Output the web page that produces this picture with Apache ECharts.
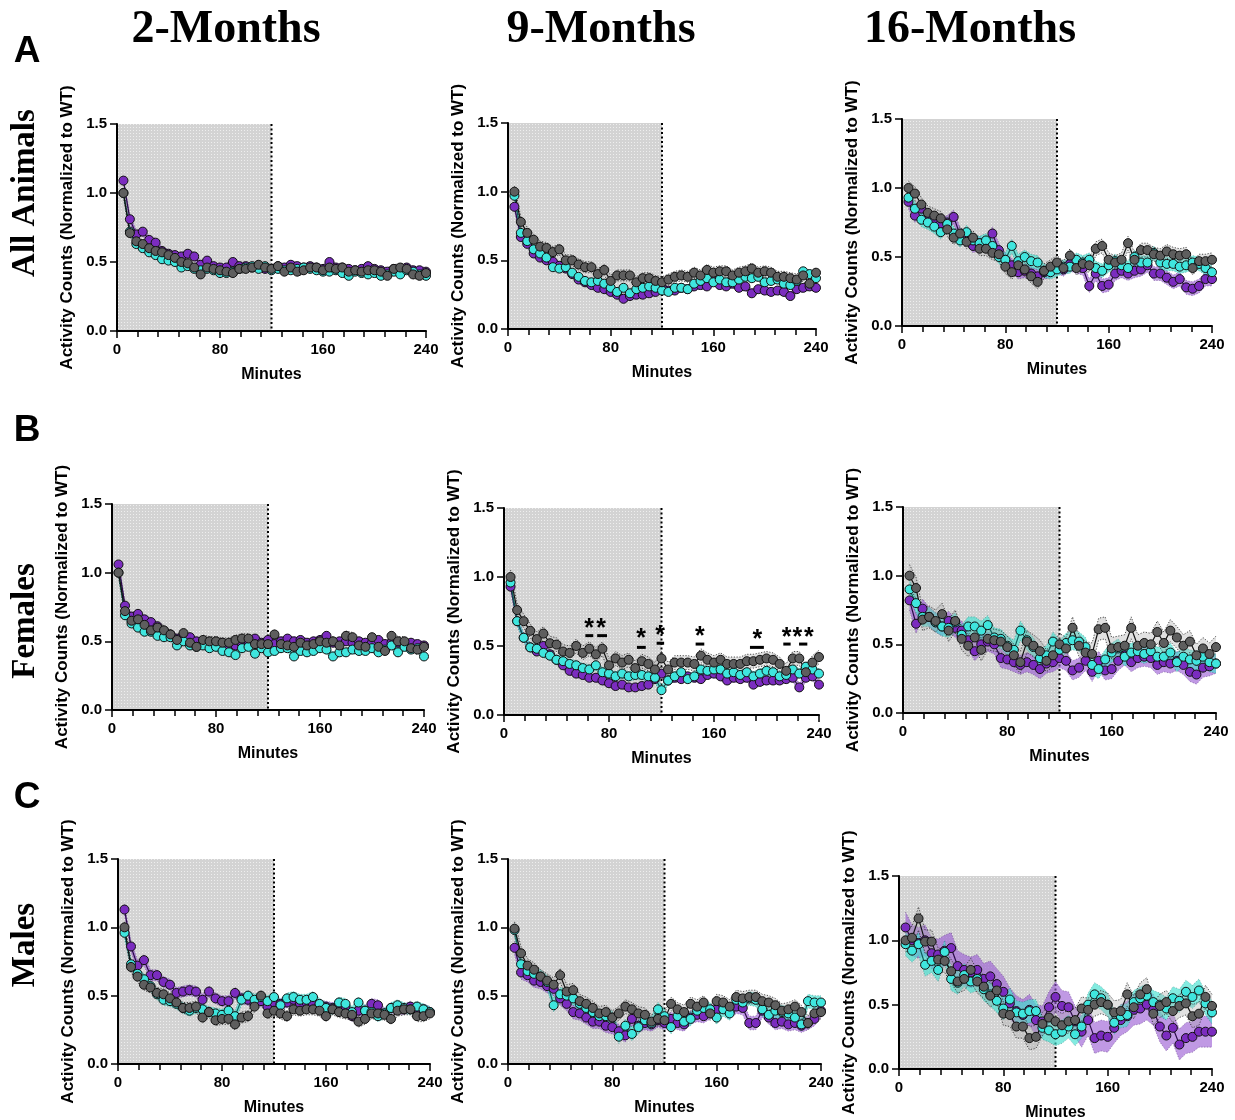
<!DOCTYPE html>
<html><head><meta charset="utf-8">
<script src="https://cdn.jsdelivr.net/npm/echarts@6/dist/echarts.min.js"></script>
<style>html,body{margin:0;padding:0;background:#fff}#c{width:1235px;height:1120px}</style>
</head><body><div id="c"></div>
<script>
// ---------------- DATA ----------------
const MINUTES=[5,10,15,20,25,30,35,40,45,50,55,60,65,70,75,80,85,90,95,100,105,110,115,120,
125,130,135,140,145,150,155,160,165,170,175,180,185,190,195,200,205,210,215,220,225,230,235,240];
const COLUMN_TITLES=['2-Months','9-Months','16-Months'];
const ROW_TITLES=['All Animals','Females','Males'];
const PANEL_LETTERS=['A','B','C'];
const X_AXIS_NAME='Minutes';
const Y_AXIS_NAME='Activity Counts (Normalized to WT)';
const DARK_PHASE=[0,120];

// All animals, 2 months
const A1_PURPLE=[1.09,0.81,0.70,0.72,0.66,0.64,0.58,0.56,0.55,0.54,0.56,0.54,0.48,0.51,0.47,0.46,0.46,0.50,0.47,0.47,0.46,0.47,0.45,0.45,0.47,0.46,0.48,0.47,0.46,0.47,0.46,0.45,0.50,0.46,0.46,0.45,0.44,0.45,0.47,0.45,0.44,0.43,0.45,0.45,0.46,0.44,0.44,0.43];
const A1_CYAN=[1.00,0.72,0.63,0.60,0.57,0.55,0.52,0.51,0.50,0.46,0.47,0.45,0.44,0.45,0.44,0.42,0.42,0.43,0.45,0.46,0.47,0.45,0.47,0.44,0.45,0.44,0.44,0.45,0.46,0.45,0.44,0.43,0.43,0.44,0.42,0.40,0.43,0.42,0.41,0.42,0.40,0.41,0.43,0.41,0.44,0.43,0.41,0.40];
const A1_GRAY=[1.00,0.71,0.65,0.63,0.60,0.58,0.57,0.55,0.53,0.50,0.49,0.46,0.41,0.46,0.45,0.44,0.43,0.42,0.45,0.45,0.46,0.48,0.46,0.45,0.47,0.43,0.46,0.43,0.44,0.46,0.46,0.44,0.46,0.45,0.46,0.43,0.44,0.43,0.44,0.44,0.43,0.40,0.45,0.46,0.45,0.41,0.40,0.42];
const A1_SEM=[0.03,0.025,0.03];
// All animals, 9 months
const A2_PURPLE=[0.89,0.67,0.62,0.55,0.52,0.50,0.49,0.46,0.44,0.40,0.36,0.34,0.32,0.30,0.29,0.27,0.25,0.22,0.24,0.25,0.25,0.26,0.27,0.30,0.28,0.28,0.30,0.29,0.31,0.32,0.31,0.35,0.32,0.31,0.33,0.30,0.31,0.26,0.29,0.28,0.27,0.28,0.27,0.24,0.29,0.30,0.31,0.30];
const A2_CYAN=[0.97,0.70,0.64,0.58,0.55,0.52,0.45,0.44,0.45,0.41,0.38,0.35,0.34,0.35,0.33,0.30,0.27,0.30,0.26,0.29,0.30,0.31,0.30,0.28,0.27,0.30,0.30,0.29,0.33,0.35,0.37,0.34,0.36,0.34,0.34,0.36,0.38,0.37,0.38,0.34,0.35,0.36,0.33,0.32,0.35,0.42,0.40,0.37];
const A2_GRAY=[1.00,0.78,0.70,0.65,0.60,0.59,0.56,0.58,0.50,0.50,0.47,0.45,0.45,0.40,0.43,0.35,0.39,0.39,0.39,0.34,0.37,0.37,0.35,0.34,0.36,0.38,0.39,0.38,0.41,0.39,0.43,0.41,0.42,0.42,0.39,0.41,0.42,0.44,0.41,0.42,0.41,0.38,0.38,0.37,0.36,0.39,0.33,0.41];
const A2_SEM=[0.03,0.03,0.04];
// All animals, 16 months
const A3_PURPLE=[0.90,0.80,0.85,0.78,0.76,0.74,0.75,0.79,0.66,0.64,0.58,0.60,0.58,0.67,0.55,0.48,0.44,0.39,0.40,0.38,0.36,0.39,0.40,0.43,0.41,0.45,0.43,0.42,0.29,0.38,0.29,0.30,0.38,0.40,0.38,0.40,0.41,0.44,0.38,0.38,0.35,0.32,0.34,0.28,0.27,0.29,0.34,0.34];
const A3_CYAN=[0.93,0.85,0.77,0.75,0.72,0.68,0.74,0.67,0.62,0.68,0.62,0.60,0.62,0.58,0.50,0.48,0.58,0.47,0.50,0.47,0.46,0.40,0.39,0.41,0.43,0.43,0.48,0.46,0.48,0.42,0.40,0.44,0.47,0.44,0.42,0.50,0.46,0.46,0.53,0.46,0.45,0.45,0.43,0.44,0.46,0.45,0.42,0.39];
const A3_GRAY=[1.00,0.96,0.88,0.82,0.80,0.78,0.70,0.64,0.67,0.61,0.64,0.56,0.56,0.53,0.52,0.43,0.39,0.44,0.41,0.36,0.32,0.40,0.43,0.46,0.42,0.51,0.42,0.45,0.44,0.56,0.58,0.48,0.46,0.48,0.60,0.48,0.55,0.55,0.52,0.51,0.54,0.52,0.51,0.52,0.42,0.47,0.47,0.48];
const A3_SEM=[0.05,0.05,0.05];
// Females, 2 months
const B1_PURPLE=[1.06,0.76,0.68,0.70,0.66,0.64,0.61,0.57,0.55,0.52,0.53,0.53,0.50,0.50,0.49,0.47,0.49,0.47,0.47,0.48,0.48,0.52,0.49,0.51,0.48,0.50,0.52,0.50,0.51,0.49,0.50,0.51,0.54,0.49,0.50,0.50,0.49,0.50,0.49,0.49,0.51,0.48,0.49,0.49,0.48,0.49,0.48,0.47];
const B1_CYAN=[1.00,0.69,0.63,0.60,0.57,0.57,0.54,0.53,0.53,0.47,0.50,0.47,0.46,0.47,0.45,0.46,0.43,0.42,0.40,0.45,0.46,0.41,0.45,0.42,0.43,0.45,0.45,0.39,0.43,0.42,0.43,0.45,0.44,0.39,0.42,0.42,0.44,0.43,0.43,0.45,0.42,0.44,0.47,0.42,0.46,0.44,0.45,0.39];
const B1_GRAY=[1.00,0.72,0.65,0.66,0.62,0.58,0.60,0.58,0.55,0.51,0.56,0.49,0.46,0.51,0.50,0.50,0.49,0.49,0.51,0.52,0.52,0.48,0.48,0.48,0.55,0.48,0.47,0.46,0.49,0.47,0.48,0.50,0.49,0.50,0.47,0.54,0.53,0.47,0.46,0.53,0.46,0.43,0.54,0.50,0.50,0.45,0.44,0.46];
const B1_SEM=[0.03,0.03,0.035];
// Females, 9 months
const B2_PURPLE=[0.93,0.68,0.56,0.49,0.46,0.50,0.44,0.40,0.36,0.32,0.30,0.29,0.27,0.27,0.25,0.23,0.21,0.22,0.20,0.20,0.21,0.22,0.26,0.30,0.25,0.27,0.26,0.28,0.27,0.26,0.29,0.30,0.28,0.25,0.27,0.26,0.27,0.22,0.24,0.25,0.25,0.25,0.26,0.27,0.20,0.27,0.28,0.22];
const B2_CYAN=[0.96,0.68,0.56,0.49,0.48,0.45,0.43,0.40,0.39,0.37,0.36,0.34,0.33,0.36,0.31,0.30,0.28,0.30,0.28,0.29,0.29,0.28,0.27,0.18,0.25,0.28,0.31,0.26,0.28,0.33,0.32,0.33,0.33,0.30,0.31,0.29,0.31,0.28,0.30,0.32,0.31,0.28,0.29,0.33,0.30,0.35,0.33,0.30];
const B2_GRAY=[1.00,0.76,0.68,0.61,0.55,0.59,0.52,0.51,0.46,0.45,0.50,0.45,0.48,0.44,0.48,0.36,0.41,0.38,0.40,0.34,0.39,0.37,0.33,0.41,0.33,0.38,0.38,0.38,0.37,0.43,0.40,0.38,0.40,0.37,0.37,0.37,0.39,0.39,0.40,0.41,0.40,0.37,0.32,0.41,0.41,0.31,0.38,0.42];
const B2_SEM=[0.03,0.035,0.05];
const B2_SIG_STARS=[[64.8,0.667],[74,0.667],[104.4,0.594],[118.9,0.616],[149.3,0.611],[193,0.587],[215.4,0.6],[223.5,0.6],[232.2,0.6]];
const B2_SIG_BARS=[[62,68,0.575],[71,78.5,0.575],[101.3,108,0.49],[116.3,122,0.52],[146,152.6,0.514],[187.4,198,0.49],[212.8,218.4,0.514],[224.8,231.1,0.514]];
// Females, 16 months
const B3_PURPLE=[0.82,0.65,0.76,0.70,0.66,0.63,0.67,0.62,0.60,0.53,0.45,0.50,0.52,0.50,0.40,0.39,0.37,0.35,0.37,0.35,0.32,0.36,0.37,0.40,0.38,0.31,0.33,0.38,0.30,0.38,0.31,0.32,0.38,0.42,0.37,0.40,0.41,0.40,0.35,0.37,0.36,0.38,0.35,0.30,0.28,0.33,0.34,0.36];
const B3_CYAN=[0.90,0.80,0.70,0.70,0.66,0.63,0.62,0.66,0.57,0.63,0.63,0.60,0.64,0.55,0.54,0.49,0.46,0.60,0.53,0.48,0.40,0.42,0.52,0.46,0.51,0.53,0.52,0.48,0.35,0.32,0.39,0.44,0.47,0.41,0.44,0.45,0.43,0.45,0.41,0.41,0.44,0.37,0.41,0.39,0.38,0.41,0.37,0.36];
const B3_GRAY=[1.00,0.91,0.68,0.70,0.67,0.72,0.60,0.67,0.54,0.49,0.55,0.46,0.54,0.53,0.52,0.48,0.42,0.37,0.52,0.49,0.45,0.38,0.42,0.50,0.47,0.62,0.49,0.44,0.43,0.61,0.62,0.47,0.48,0.49,0.62,0.49,0.51,0.50,0.59,0.51,0.60,0.55,0.49,0.52,0.42,0.47,0.43,0.48];
const B3_SEM=[0.07,0.07,0.08];
// Males, 2 months
const C1_PURPLE=[1.13,0.86,0.72,0.76,0.65,0.65,0.60,0.58,0.52,0.53,0.54,0.53,0.47,0.53,0.48,0.46,0.46,0.52,0.48,0.47,0.44,0.46,0.42,0.45,0.44,0.45,0.47,0.44,0.45,0.44,0.43,0.42,0.41,0.43,0.42,0.35,0.39,0.39,0.44,0.43,0.37,0.41,0.40,0.40,0.42,0.38,0.40,0.38];
const C1_CYAN=[0.96,0.73,0.66,0.62,0.57,0.51,0.47,0.46,0.44,0.41,0.39,0.41,0.40,0.38,0.37,0.36,0.39,0.35,0.47,0.50,0.47,0.49,0.46,0.49,0.43,0.48,0.49,0.47,0.47,0.49,0.44,0.41,0.40,0.45,0.44,0.38,0.45,0.39,0.38,0.35,0.37,0.41,0.43,0.41,0.40,0.42,0.40,0.38];
const C1_GRAY=[1.00,0.71,0.64,0.58,0.56,0.52,0.51,0.48,0.45,0.41,0.41,0.42,0.34,0.38,0.32,0.33,0.33,0.29,0.34,0.35,0.42,0.50,0.37,0.39,0.37,0.35,0.40,0.39,0.40,0.40,0.39,0.35,0.40,0.38,0.37,0.36,0.31,0.33,0.37,0.37,0.36,0.33,0.39,0.40,0.40,0.35,0.35,0.37];
const C1_SEM=[0.04,0.04,0.04];
// Males, 9 months
const C2_PURPLE=[0.85,0.67,0.65,0.61,0.60,0.57,0.55,0.48,0.44,0.38,0.37,0.34,0.31,0.31,0.28,0.27,0.24,0.21,0.33,0.28,0.30,0.29,0.32,0.30,0.33,0.30,0.29,0.34,0.36,0.35,0.38,0.40,0.43,0.38,0.42,0.41,0.30,0.30,0.39,0.34,0.30,0.31,0.29,0.30,0.28,0.30,0.33,0.39];
const C2_CYAN=[0.98,0.73,0.68,0.66,0.64,0.60,0.43,0.51,0.50,0.48,0.44,0.41,0.38,0.35,0.35,0.34,0.20,0.28,0.22,0.27,0.32,0.30,0.40,0.35,0.27,0.35,0.31,0.33,0.39,0.41,0.40,0.34,0.40,0.37,0.47,0.45,0.48,0.47,0.40,0.36,0.39,0.38,0.37,0.34,0.29,0.46,0.45,0.45];
const C2_GRAY=[0.99,0.81,0.72,0.69,0.64,0.61,0.58,0.65,0.53,0.54,0.46,0.44,0.41,0.37,0.38,0.34,0.37,0.42,0.40,0.37,0.36,0.31,0.33,0.32,0.44,0.40,0.38,0.44,0.42,0.45,0.37,0.46,0.45,0.42,0.49,0.48,0.49,0.49,0.46,0.45,0.43,0.39,0.40,0.42,0.38,0.30,0.37,0.38];
const C2_SEM=[0.05,0.05,0.05];
// Males, 16 months
const C3_PURPLE=[1.10,1.00,0.98,1.00,0.90,0.89,0.92,0.94,0.80,0.77,0.75,0.77,0.70,0.72,0.66,0.60,0.51,0.45,0.42,0.46,0.38,0.37,0.48,0.56,0.49,0.48,0.37,0.29,0.38,0.24,0.26,0.25,0.32,0.38,0.41,0.46,0.47,0.50,0.46,0.33,0.26,0.32,0.19,0.24,0.25,0.29,0.29,0.29];
const C3_CYAN=[0.97,0.92,0.97,0.81,0.84,0.77,0.91,0.70,0.67,0.73,0.68,0.70,0.62,0.58,0.53,0.47,0.54,0.44,0.43,0.45,0.45,0.32,0.30,0.27,0.29,0.33,0.27,0.33,0.50,0.58,0.55,0.50,0.36,0.41,0.42,0.52,0.55,0.57,0.52,0.50,0.47,0.55,0.53,0.60,0.56,0.61,0.51,0.44];
const C3_GRAY=[1.00,1.02,1.17,0.99,0.99,0.85,0.84,0.76,0.68,0.70,0.77,0.68,0.64,0.57,0.61,0.43,0.42,0.33,0.33,0.24,0.25,0.35,0.40,0.37,0.34,0.37,0.38,0.47,0.46,0.50,0.52,0.50,0.44,0.45,0.58,0.48,0.58,0.62,0.43,0.49,0.52,0.45,0.49,0.51,0.41,0.43,0.56,0.49];
const C3_SEM=[0.12,0.09,0.09];

// ---------------- LAYOUT / STYLE ----------------
const PANELS=[
 {g:{left:117,top:124,width:309,height:207},d:[A1_PURPLE,A1_CYAN,A1_GRAY],s:A1_SEM},
 {g:{left:508,top:123,width:308,height:206},d:[A2_PURPLE,A2_CYAN,A2_GRAY],s:A2_SEM},
 {g:{left:902,top:119,width:310,height:207},d:[A3_PURPLE,A3_CYAN,A3_GRAY],s:A3_SEM},
 {g:{left:112,top:504,width:312,height:206},d:[B1_PURPLE,B1_CYAN,B1_GRAY],s:B1_SEM},
 {g:{left:504,top:508,width:315,height:207},d:[B2_PURPLE,B2_CYAN,B2_GRAY],s:B2_SEM,stars:B2_SIG_STARS,bars:B2_SIG_BARS},
 {g:{left:903,top:507,width:313,height:206},d:[B3_PURPLE,B3_CYAN,B3_GRAY],s:B3_SEM},
 {g:{left:118,top:859,width:312,height:205},d:[C1_PURPLE,C1_CYAN,C1_GRAY],s:C1_SEM},
 {g:{left:508,top:859,width:313,height:205},d:[C2_PURPLE,C2_CYAN,C2_GRAY],s:C2_SEM},
 {g:{left:899,top:876,width:313,height:193},d:[C3_PURPLE,C3_CYAN,C3_GRAY],s:C3_SEM}
];
const MARK_COLORS=['#7B2CBF','#3FE6DE','#5E5E5E'];
const LINE_COLORS=['#2a0a48','#0e5e5a','#111111'];
const BAND_FILLS=['rgba(150,85,210,0.6)','rgba(64,224,208,0.65)','rgba(170,170,170,0.35)'];
const BAND_EDGES=['rgba(60,20,100,0.5)','rgba(10,90,90,0.45)','#222'];
const SANS='"Liberation Sans", Arial, sans-serif';
const SERIF='"Liberation Serif", "Times New Roman", serif';

const pc=document.createElement('canvas');pc.width=3;pc.height=3;
const pg=pc.getContext('2d');pg.fillStyle='#d3d3d3';pg.fillRect(0,0,3,3);pg.fillStyle='#eeeeee';pg.fillRect(1,1,1,1);
const DOT_PATTERN={image:pc,repeat:'repeat'};

const grids=[],xAxes=[],yAxes=[],series=[];
PANELS.forEach((p,gi)=>{
 grids.push(Object.assign({outerBoundsMode:'none',containLabel:false},p.g));
 xAxes.push({type:'value',gridIndex:gi,min:0,max:240,interval:80,z:10,
  name:X_AXIS_NAME,nameLocation:'middle',nameGap:36,
  nameTextStyle:{fontFamily:SANS,fontWeight:'bold',fontSize:16,color:'#000'},
  axisLine:{show:true,onZero:false,lineStyle:{color:'#000',width:2}},
  axisTick:{show:true,inside:false,length:7,lineStyle:{color:'#000',width:1.5}},
  minorTick:{show:true,splitNumber:5,length:6,lineStyle:{color:'#000',width:1.5}},
  splitLine:{show:false},minorSplitLine:{show:false},
  axisLabel:{fontFamily:SANS,fontWeight:'bold',fontSize:15,color:'#000',margin:11}});
 yAxes.push({type:'value',gridIndex:gi,min:0,max:1.5,interval:0.5,z:10,
  name:Y_AXIS_NAME,nameLocation:'middle',nameRotate:90,nameGap:41,
  nameTextStyle:{fontFamily:SANS,fontWeight:'bold',fontSize:17,color:'#000'},
  axisLine:{show:true,onZero:false,lineStyle:{color:'#000',width:2}},
  axisTick:{show:true,inside:false,length:7,lineStyle:{color:'#000',width:1.5}},
  splitLine:{show:false},
  axisLabel:{fontFamily:SANS,fontWeight:'bold',fontSize:15,color:'#000',margin:10,formatter:v=>v.toFixed(1)}});
 // dark phase region and dotted boundary
 series.push({type:'custom',xAxisIndex:gi,yAxisIndex:gi,silent:true,z:1,data:[[DARK_PHASE[0],0]],
  renderItem:(params,api)=>{
   const a=api.coord([DARK_PHASE[0],1.5]),b=api.coord([DARK_PHASE[1],0]);
   return {type:'group',children:[
    {type:'rect',shape:{x:a[0],y:a[1],width:b[0]-a[0],height:b[1]-a[1]},style:{fill:DOT_PATTERN}},
    {type:'line',shape:{x1:b[0],y1:a[1],x2:b[0],y2:b[1]},style:{stroke:'#000',lineWidth:2,lineDash:[2,2.5]}}
   ]};
  }});
 // error bands
 p.d.forEach((vals,k)=>{
  const sem=p.s[k];
  series.push({type:'custom',xAxisIndex:gi,yAxisIndex:gi,silent:true,z:2,data:[[MINUTES[0],vals[0]]],
   renderItem:(params,api)=>{
    const up=[],lo=[];
    for(let i=0;i<vals.length;i++){up.push(api.coord([MINUTES[i],vals[i]+sem]));lo.push(api.coord([MINUTES[i],Math.max(0,vals[i]-sem)]));}
    const ch=[{type:'polygon',shape:{points:up.concat(lo.slice().reverse())},style:{fill:BAND_FILLS[k]}}];
    if(BAND_EDGES[k]){
     ch.push({type:'polyline',shape:{points:up},style:{stroke:BAND_EDGES[k],lineWidth:0.8,lineDash:[1.2,1.6],fill:null}});
     ch.push({type:'polyline',shape:{points:lo},style:{stroke:BAND_EDGES[k],lineWidth:0.8,lineDash:[1.2,1.6],fill:null}});
    }
    return {type:'group',children:ch};
   }});
 });
 // mean lines with markers
 p.d.forEach((vals,k)=>{
  series.push({type:'line',xAxisIndex:gi,yAxisIndex:gi,z:3,animation:false,
   data:MINUTES.map((t,i)=>[t,vals[i]]),symbol:'circle',symbolSize:9,showSymbol:true,
   itemStyle:{color:MARK_COLORS[k],borderColor:'#111',borderWidth:1},
   lineStyle:{color:LINE_COLORS[k],width:1.2},emphasis:{disabled:true}});
 });
 if(p.stars){
  const stars=p.stars,bars=p.bars;
  series.push({type:'custom',xAxisIndex:gi,yAxisIndex:gi,silent:true,z:5,data:[[0,0]],
   renderItem:(params,api)=>{
    const ch=[];
    stars.forEach(s=>{const c=api.coord(s);ch.push({type:'text',x:c[0],y:c[1]+6,style:{text:'*',font:'bold 25px '+SANS,fill:'#000',align:'center',verticalAlign:'middle'}});});
    bars.forEach(b=>{const c1=api.coord([b[0],b[2]]),c2=api.coord([b[1],b[2]]);ch.push({type:'rect',shape:{x:c1[0],y:c1[1]-1.5,width:c2[0]-c1[0],height:3},style:{fill:'#000'}});});
    return {type:'group',children:ch};
   }});
 }
});

const graphic=[];
const colX=[226,601,970];
COLUMN_TITLES.forEach((t,i)=>graphic.push({type:'text',x:colX[i],y:30,style:{text:t,font:'bold 46px '+SERIF,fill:'#000',align:'center',verticalAlign:'middle'}}));
const rowY=[193,621,945];
ROW_TITLES.forEach((t,i)=>graphic.push({type:'text',x:25,y:rowY[i],rotation:Math.PI/2,style:{text:t,font:'bold 33px '+SERIF,fill:'#000',align:'center',verticalAlign:'middle'}}));
const letterY=[52,431,798];
PANEL_LETTERS.forEach((t,i)=>graphic.push({type:'text',x:27,y:letterY[i],style:{text:t,font:'bold 37px '+SANS,fill:'#000',align:'center',verticalAlign:'middle'}}));

const chart=echarts.init(document.getElementById('c'),null,{renderer:'canvas'});
chart.setOption({animation:false,backgroundColor:'#fff',textStyle:{fontFamily:SANS},
 grid:grids,xAxis:xAxes,yAxis:yAxes,series:series,graphic:graphic});
</script></body></html>
